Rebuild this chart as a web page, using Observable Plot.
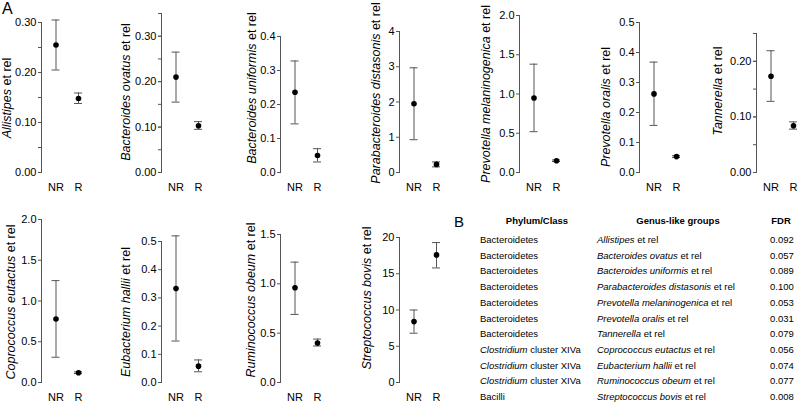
<!DOCTYPE html>
<html>
<head>
<meta charset="utf-8">
<script src="https://cdn.jsdelivr.net/npm/d3@7"></script>
<script src="https://cdn.jsdelivr.net/npm/@observablehq/plot@0.6"></script>
<style>
  html, body { margin: 0; padding: 0; background: #fff; overflow: hidden; }
  #root { position: relative; width: 800px; height: 414px; font-family: "Liberation Sans", Arial, Helvetica, sans-serif; color: #000; }
  .panel { position: absolute; }
  .ylab { position: absolute; white-space: nowrap; font-size: 12.5px; transform: translate(-50%, -50%) rotate(-90deg); line-height: 1; }
  .cell { position: absolute; white-space: nowrap; font-size: 9.5px; line-height: 1; transform: translateY(-50%); }
  .hdr { font-weight: bold; transform: translate(-50%, -50%); }
  .letter { position: absolute; font-size: 16px; line-height: 1; }
</style>
</head>
<body>
<div id="root"></div>
<script>
// ---- data ----
const genera = ["Allistipes", "Bacteroides ovatus", "Bacteroides uniformis", "Parabacteroides distasonis",
  "Prevotella melaninogenica", "Prevotella oralis", "Tannerella",
  "Coprococcus eutactus", "Eubacterium hallii", "Ruminococcus obeum", "Streptococcus bovis"];
const groups = ["NR", "R"];
const nrMean = [0.255, 0.210, 0.236, 1.95, 0.95, 0.262, 0.173, 0.78, 0.333, 0.96, 8.4];
const nrLow  = [0.205, 0.155, 0.143, 0.93, 0.52, 0.157, 0.128, 0.31, 0.147, 0.69, 6.8];
const nrHigh = [0.305, 0.265, 0.328, 2.97, 1.38, 0.368, 0.219, 1.25, 0.520, 1.22, 10.0];
const rMean  = [0.148, 0.103, 0.050, 0.23, 0.15, 0.053, 0.084, 0.12, 0.058, 0.40, 17.6];
const rLow   = [0.138, 0.095, 0.031, 0.16, 0.14, 0.050, 0.078, 0.11, 0.038, 0.37, 15.8];
const rHigh  = [0.159, 0.112, 0.070, 0.30, 0.16, 0.056, 0.091, 0.13, 0.080, 0.44, 19.3];
// axis definitions
const yMax      = [0.30, 0.35, 0.4, 4, 2.0, 0.5, 0.25, 2.0, 0.5, 1.5, 20];
const labelMax  = [0.30, 0.30, 0.4, 4, 2.0, 0.5, 0.20, 2.0, 0.5, 1.5, 20];
const majorStep = [0.10, 0.10, 0.1, 1, 0.5, 0.1, 0.10, 0.5, 0.1, 0.5, 5];
const minorStep = [0.05, 0.05, null, null, null, null, 0.05, null, null, null, null];
const decimals  = [2, 2, 1, 0, 1, 1, 2, 1, 1, 1, 0];
// table B
const phylum = ["Bacteroidetes", "Bacteroidetes", "Bacteroidetes", "Bacteroidetes", "Bacteroidetes", "Bacteroidetes", "Bacteroidetes",
  "Clostridium|cluster XIVa", "Clostridium|cluster XIVa", "Clostridium|cluster XIVa", "Bacilli"];
const fdr = ["0.092", "0.057", "0.089", "0.100", "0.053", "0.031", "0.079", "0.056", "0.074", "0.077", "0.008"];
const tableHeaders = ["Phylum/Class", "Genus-like groups", "FDR"];

// ---- layout (pixels) ----
const layout = [
  {ax: 41,  top: 22,  row: 0, lx: 7,   ly: 98},
  {ax: 161, top: 13,  row: 0, lx: 126, ly: 92},
  {ax: 280, top: 36,  row: 0, lx: 252, ly: 88},
  {ax: 399, top: 31,  row: 0, lx: 376, ly: 93},
  {ax: 519, top: 15,  row: 0, lx: 486, ly: 94},
  {ax: 639, top: 22,  row: 0, lx: 606, ly: 107},
  {ax: 756, top: 33,  row: 0, lx: 718, ly: 91},
  {ax: 41,  top: 219, row: 1, lx: 11,  ly: 302},
  {ax: 161, top: 241, row: 1, lx: 126, ly: 312},
  {ax: 280, top: 234, row: 1, lx: 251, ly: 300},
  {ax: 399, top: 237, row: 1, lx: 367, ly: 298}
];
const rowGeom = [{svgTop: 0, h: 200, zero: 172}, {svgTop: 200, h: 214, zero: 382}];
const ML = 36, PW = 82;
const CAP = 8, NRoff = 14.5, GAP = 22.5;
const root = document.getElementById("root");
const FONT = '"Liberation Sans", Arial, Helvetica, sans-serif';

function ticksFor(max, step) {
  if (!step) return [];
  const n = Math.round(max / step);
  return d3.range(0, n + 1).map(i => +(i * step).toFixed(6));
}

genera.forEach((g, i) => {
  const L = layout[i], R = rowGeom[L.row];
  const data = [
    {g: "NR", mean: nrMean[i], lo: nrLow[i], hi: nrHigh[i]},
    {g: "R", mean: rMean[i], lo: rLow[i], hi: rHigh[i]}
  ];
  const mt = L.top - R.svgTop;
  const mb = R.h - (R.zero - R.svgTop);
  const fmt = d => d.toFixed(decimals[i]);
  const chart = Plot.plot({
    width: PW, height: R.h,
    marginLeft: ML, marginRight: 0, marginTop: mt, marginBottom: mb,
    style: {fontFamily: FONT, fontSize: "11px", color: "#000", background: "transparent", overflow: "visible"},
    x: {type: "band", domain: groups, range: [ML + NRoff - CAP / 2, ML + NRoff + GAP + CAP / 2],
        paddingInner: 1 - CAP / GAP, paddingOuter: 0, round: false},
    y: {domain: [0, yMax[i]], nice: false},
    marks: [
      Plot.frame({anchor: "left", stroke: "#555"}),
      minorStep[i] ? Plot.axisY({ticks: ticksFor(yMax[i], minorStep[i]), tickFormat: () => "", tickSize: 3, stroke: "#555", label: null}) : null,
      Plot.axisY({ticks: ticksFor(labelMax[i], majorStep[i]), tickFormat: fmt, tickSize: 3, tickPadding: 2, stroke: "#555", fill: "#000", label: null, fontSize: 11}),
      Plot.axisX({tickSize: 0, tickPadding: 11, label: null, fill: "#000", fontSize: 11}),
      Plot.ruleX(data, {x: "g", y1: "lo", y2: "hi", stroke: "#555", strokeWidth: 1}),
      Plot.tickY(data, {x: "g", y: "lo", stroke: "#555"}),
      Plot.tickY(data, {x: "g", y: "hi", stroke: "#555"}),
      Plot.dot(data, {x: "g", y: "mean", r: 2.8, fill: "#000", stroke: null})
    ].filter(Boolean)
  });
  chart.classList.add("panel");
  chart.style.left = (L.ax - ML) + "px";
  chart.style.top = R.svgTop + "px";
  root.appendChild(chart);

  const lab = document.createElement("div");
  lab.className = "ylab";
  lab.style.left = L.lx + "px";
  lab.style.top = L.ly + "px";
  lab.innerHTML = `<i>${g}</i> et rel`;
  root.appendChild(lab);
});

// panel letters
const A = document.createElement("div");
A.className = "letter"; A.textContent = "A"; A.style.left = "2px"; A.style.top = "1px";
root.appendChild(A);
const B = document.createElement("div");
B.className = "letter"; B.textContent = "B"; B.style.left = "454px"; B.style.top = "214px"; B.style.fontSize = "15px";
root.appendChild(B);

// table
const colLeft = [480, 597, 770];
const hdrCenter = [537, 678, 781];
const hdrY = 221, row0 = 240, rowStep = 15.7;
tableHeaders.forEach((h, j) => {
  const d = document.createElement("div");
  d.className = "cell hdr";
  d.style.left = hdrCenter[j] + "px"; d.style.top = hdrY + "px";
  d.textContent = h;
  root.appendChild(d);
});
genera.forEach((g, i) => {
  const y = row0 + i * rowStep;
  const p = phylum[i].split("|");
  const cells = [
    p.length > 1 ? `<i>${p[0]}</i> ${p[1]}` : p[0],
    `<i>${g}</i> et rel`,
    fdr[i]
  ];
  cells.forEach((html, j) => {
    const d = document.createElement("div");
    d.className = "cell";
    d.style.left = colLeft[j] + "px"; d.style.top = y + "px";
    d.innerHTML = html;
    root.appendChild(d);
  });
});
</script>
</body>
</html>
